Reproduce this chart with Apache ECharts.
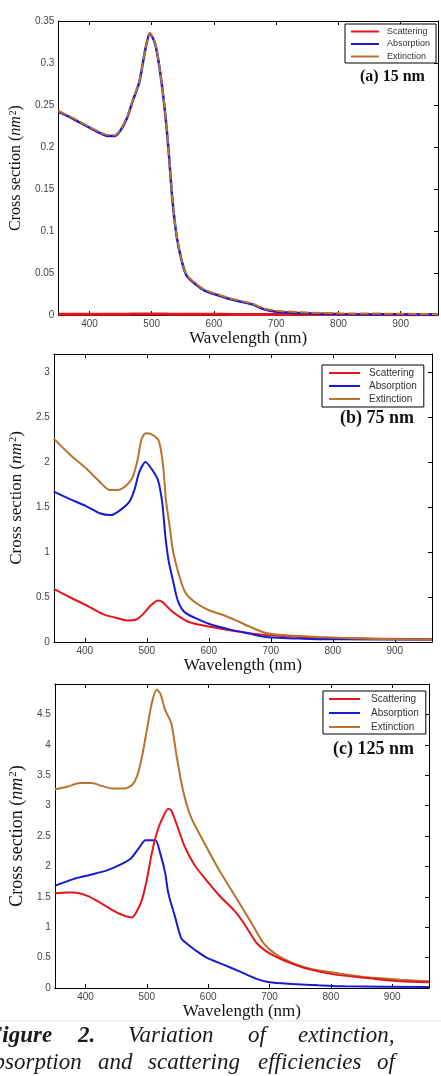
<!DOCTYPE html>
<html>
<head>
<meta charset="utf-8">
<script src="https://cdn.jsdelivr.net/npm/echarts@6/dist/echarts.min.js"></script>
<style>
  html, body { margin: 0; padding: 0; background: #fff; }
  #chart { width: 441px; height: 1076px; }
</style>
</head>
<body>
<div id="chart"></div>
<script>
// (a) 15 nm
const wlA = [350, 375, 400, 425, 440, 450, 460, 470, 480, 490, 497, 505, 512, 520, 527, 533, 540, 548, 556, 570, 585, 600, 630, 660, 680, 700, 750, 800, 900, 960];
const extA = [0.243, 0.234, 0.224, 0.215, 0.214, 0.221, 0.235, 0.257, 0.278, 0.318, 0.336, 0.325, 0.298, 0.252, 0.198, 0.140, 0.095, 0.066, 0.048, 0.038, 0.030, 0.026, 0.019, 0.014, 0.008, 0.005, 0.003, 0.002, 0.0015, 0.001];
const absA = [0.242, 0.233, 0.223, 0.214, 0.213, 0.220, 0.234, 0.256, 0.277, 0.317, 0.335, 0.324, 0.297, 0.251, 0.197, 0.139, 0.094, 0.065, 0.047, 0.037, 0.029, 0.025, 0.018, 0.013, 0.007, 0.004, 0.002, 0.0012, 0.0008, 0.0005];
const scaA = [0.0008, 0.0008, 0.0009, 0.0009, 0.001, 0.001, 0.001, 0.0011, 0.0012, 0.0012, 0.0012, 0.0012, 0.0011, 0.0011, 0.001, 0.001, 0.001, 0.0009, 0.0009, 0.0009, 0.0008, 0.0008, 0.0007, 0.0007, 0.0006, 0.0006, 0.0005, 0.0005, 0.0004, 0.0004];

// (b) 75 nm
const wlExtB = [350, 375, 402, 424, 440, 453, 467, 477, 485, 491, 498, 507, 519, 526, 531, 537, 542, 553, 563, 580, 601, 623, 644, 666, 692, 725, 778, 859, 960];
const extB = [2.26, 2.09, 1.93, 1.78, 1.69, 1.69, 1.74, 1.83, 2.02, 2.24, 2.32, 2.31, 2.24, 1.98, 1.57, 1.28, 1.02, 0.72, 0.54, 0.43, 0.35, 0.30, 0.24, 0.17, 0.10, 0.074, 0.055, 0.037, 0.026];
const wlAbsB = [350, 375, 402, 424, 442, 456, 472, 480, 488, 498, 507, 518, 525, 530, 535, 542, 550, 561, 577, 601, 633, 666, 692, 752, 805, 960];
const absB = [1.67, 1.59, 1.51, 1.43, 1.41, 1.46, 1.56, 1.69, 1.89, 2.00, 1.93, 1.80, 1.54, 1.17, 0.91, 0.69, 0.46, 0.33, 0.27, 0.20, 0.14, 0.093, 0.056, 0.037, 0.030, 0.024];
const wlScaB = [350, 375, 402, 429, 450, 467, 483, 494, 507, 518, 526, 539, 553, 569, 590, 617, 644, 671, 698, 752, 805, 960];
const scaB = [0.59, 0.50, 0.41, 0.31, 0.27, 0.24, 0.25, 0.31, 0.41, 0.46, 0.44, 0.35, 0.28, 0.22, 0.185, 0.15, 0.12, 0.093, 0.074, 0.056, 0.044, 0.03];

// (c) 125 nm
const wlExtC = [350, 370, 391, 410, 428, 444, 463, 476, 484, 492, 500, 508, 516, 522, 530, 540, 548, 559, 572, 594, 615, 636, 658, 674, 690, 711, 738, 770, 807, 860, 913, 960];
const extC = [3.27, 3.31, 3.37, 3.37, 3.32, 3.28, 3.28, 3.34, 3.48, 3.80, 4.24, 4.68, 4.91, 4.84, 4.57, 4.35, 3.85, 3.25, 2.81, 2.38, 1.99, 1.64, 1.28, 1.01, 0.74, 0.55, 0.41, 0.31, 0.25, 0.175, 0.137, 0.11];
const wlScaC = [350, 370, 380, 402, 423, 444, 460, 475, 482, 492, 500, 508, 516, 524, 535, 540, 548, 562, 578, 599, 620, 642, 658, 679, 700, 727, 764, 807, 860, 913, 960];
const scaC = [1.56, 1.57, 1.57, 1.52, 1.41, 1.28, 1.20, 1.16, 1.23, 1.45, 1.78, 2.21, 2.54, 2.76, 2.95, 2.92, 2.71, 2.32, 2.02, 1.75, 1.50, 1.28, 1.07, 0.74, 0.57, 0.44, 0.31, 0.22, 0.164, 0.11, 0.093];
const wlAbsC = [350, 380, 407, 434, 455, 474, 487, 498, 514, 522, 530, 535, 546, 556, 564, 578, 599, 626, 652, 679, 700, 738, 780, 823, 960];
const absC = [1.68, 1.79, 1.86, 1.93, 2.02, 2.13, 2.30, 2.43, 2.43, 2.21, 1.89, 1.56, 1.17, 0.82, 0.74, 0.63, 0.49, 0.38, 0.27, 0.15, 0.093, 0.066, 0.044, 0.027, 0.016];

const names = ["Scattering", "Absorption", "Extinction"];
const RED = "#e3161d";
const BLUE = "#1a1ad0";
const BROWN = "#b8732e";
const serif = "Liberation Serif";
const sans = "Liberation Sans";

const pairs = (xs, ys) => xs.map((x, i) => [x, ys[i]]);

const grids = [
  { left: 51, top: 21, width: 387, height: 294 },
  { left: 51, top: 354, width: 381, height: 288 },
  { left: 48, top: 684, width: 381, height: 304 }
];
const yMax = [0.35, 3.2, 5];
const yNameSize = [16, 17, 18];
const yNameGap = [24, 22, 22];
const xNameGap = [15, 12, 14];

const xAxes = [];
const yAxes = [];
grids.forEach((g, i) => {
  xAxes.push({
    gridIndex: i, type: "value", min: 350, max: 960, splitNumber: 6,
    name: "Wavelength (nm)", nameLocation: "middle", nameGap: xNameGap[i],
    nameTextStyle: { fontFamily: serif, fontSize: 17, color: "#111" },
    axisLine: { onZero: false, lineStyle: { color: "#000" } },
    axisTick: { inside: true, length: 4, lineStyle: { color: "#000" } },
    axisLabel: { margin: 4, fontSize: 10, fontFamily: sans, color: "#444",
      formatter: v => (v % 100 === 0 ? String(v) : "") },
    splitLine: { show: false }
  });
  // top frame
  xAxes.push({
    gridIndex: i, type: "value", position: "top", min: 350, max: 960, splitNumber: 6,
    axisLine: { onZero: false, lineStyle: { color: "#000" } },
    axisTick: { inside: true, length: 4, lineStyle: { color: "#000" } },
    axisLabel: { show: false }, splitLine: { show: false }
  });
  yAxes.push({
    gridIndex: i, type: "value", min: 0, max: yMax[i], interval: i === 0 ? 0.05 : 0.5,
    name: "{n|Cross section (}{i|nm}{s|2}{n|)}", nameLocation: "middle", nameGap: yNameGap[i],
    nameTextStyle: {
      rich: {
        n: { fontFamily: serif, fontSize: yNameSize[i], color: "#111" },
        i: { fontFamily: serif, fontStyle: "italic", fontSize: yNameSize[i], color: "#111" },
        s: { fontFamily: serif, fontSize: yNameSize[i] * 0.6, color: "#111", verticalAlign: "top", padding: [0, 0, 6, 1] }
      }
    },
    axisLine: { show: true, onZero: false, lineStyle: { color: "#000" } },
    axisTick: { show: false },
    axisLabel: { margin: 4, fontSize: 10, fontFamily: sans, color: "#444",
      formatter: v => (v > yMax[i] - 0.01 && i > 0 ? "" : String(+v.toFixed(2))) },
    splitLine: { show: false }
  });
  // right frame
  yAxes.push({
    gridIndex: i, type: "value", position: "right", min: 0, max: yMax[i], interval: i === 0 ? 0.05 : 0.5,
    axisLine: { show: true, onZero: false, lineStyle: { color: "#000" } },
    axisTick: { show: true, inside: true, length: 4, lineStyle: { color: "#000" } },
    axisLabel: { show: false }, splitLine: { show: false }
  });
});

const line = (name, gi, data, color, width, extra) => Object.assign({
  name, type: "line", xAxisIndex: gi * 2, yAxisIndex: gi * 2, data,
  symbol: "none", smooth: 0.25, silent: true,
  lineStyle: { color, width }, itemStyle: { color }
}, extra || {});

const series = [
  line(names[0], 0, pairs(wlA, scaA), RED, 3),
  line(names[1], 0, pairs(wlA, absA), BLUE, 2.5),
  line(names[2], 0, pairs(wlA, extA), BROWN, 2, { lineStyle: { color: BROWN, width: 2, type: [9, 3] } }),
  line(names[0], 1, pairs(wlScaB, scaB), RED, 2),
  line(names[1], 1, pairs(wlAbsB, absB), BLUE, 2),
  line(names[2], 1, pairs(wlExtB, extB), BROWN, 2),
  line(names[2], 2, pairs(wlExtC, extC), BROWN, 2),
  line(names[1], 2, pairs(wlAbsC, absC), BLUE, 2),
  line(names[0], 2, pairs(wlScaC, scaC), RED, 2)
];

const legendItems = widths => names.map((n, k) => ({
  name: n, icon: "rect",
  itemStyle: { color: [RED, BLUE, BROWN][k] },
  lineStyle: { color: [RED, BLUE, BROWN][k], width: widths[k] }
}));

const legendBase = {
  orient: "vertical", selectedMode: false,
  backgroundColor: "#fff", borderColor: "#000", borderWidth: 1, borderRadius: 0
};

const legends = [
  Object.assign({}, legendBase, {
    left: 345, top: 24, padding: [3, 6, 2, 6], itemWidth: 28, itemHeight: 2, itemGap: 3.5,
    data: legendItems([1, 3, 1.5]).map((d, k) => Object.assign(d, { itemHeight: [1, 3, 1.5][k] })),
    textStyle: { fontSize: 9, fontFamily: sans, color: "#333", padding: [0, 0, 0, 3], lineHeight: 9 }
  }),
  Object.assign({}, legendBase, {
    left: 322, top: 365, padding: [3, 7, 3, 7], itemWidth: 31, itemHeight: 2, itemGap: 3,
    data: legendItems([2, 2, 2]),
    textStyle: { fontSize: 10, fontFamily: sans, color: "#333", padding: [0, 0, 0, 4], lineHeight: 10 }
  }),
  Object.assign({}, legendBase, {
    left: 323, top: 691, padding: [3, 7, 2, 6], itemWidth: 31, itemHeight: 2, itemGap: 4,
    data: legendItems([2, 2, 2]),
    textStyle: { fontSize: 10, fontFamily: sans, color: "#333", padding: [0, 0, 0, 6], lineHeight: 10 }
  })
];

const panelTitles = [
  { text: "(a) 15 nm", x: 360, y: 77, size: 16 },
  { text: "(b) 75 nm", x: 340, y: 418, size: 18 },
  { text: "(c) 125 nm", x: 333, y: 749, size: 18 }
];

// caption words, justified like the source page
const cap1 = [["Figure", -13, true], ["2.", 78, true], ["Variation", 128], ["of", 248], ["extinction,", 298]];
const cap2 = [["absorption", -18], ["and", 98], ["scattering", 148], ["efficiencies", 258], ["of", 377]];

const graphics = [];
panelTitles.forEach(t => graphics.push({
  type: "text", x: t.x, y: t.y, z: 10,
  style: { text: t.text, fontFamily: serif, fontWeight: "bold", fontSize: t.size, fill: "#111", verticalAlign: "middle" }
}));
graphics.push({ type: "line", shape: { x1: 0, y1: 1021, x2: 441, y2: 1021 }, style: { stroke: "#e4e4e4", lineWidth: 1 } });
cap1.forEach(w => graphics.push({
  type: "text", x: w[1], y: 1036,
  style: { text: w[0], fontFamily: serif, fontStyle: "italic", fontWeight: w[2] ? "bold" : "normal", fontSize: 23, fill: "#1a1a1a", verticalAlign: "middle" }
}));
cap2.forEach(w => graphics.push({
  type: "text", x: w[1], y: 1063,
  style: { text: w[0], fontFamily: serif, fontStyle: "italic", fontSize: 23, fill: "#1a1a1a", verticalAlign: "middle" }
}));

const option = {
  backgroundColor: "#fff",
  animation: false,
  grid: grids,
  xAxis: xAxes,
  yAxis: yAxes,
  legend: legends,
  series,
  graphic: graphics
};

const chart = echarts.init(document.getElementById("chart"), null, { renderer: "canvas" });
chart.setOption(option);
</script>
</body>
</html>
